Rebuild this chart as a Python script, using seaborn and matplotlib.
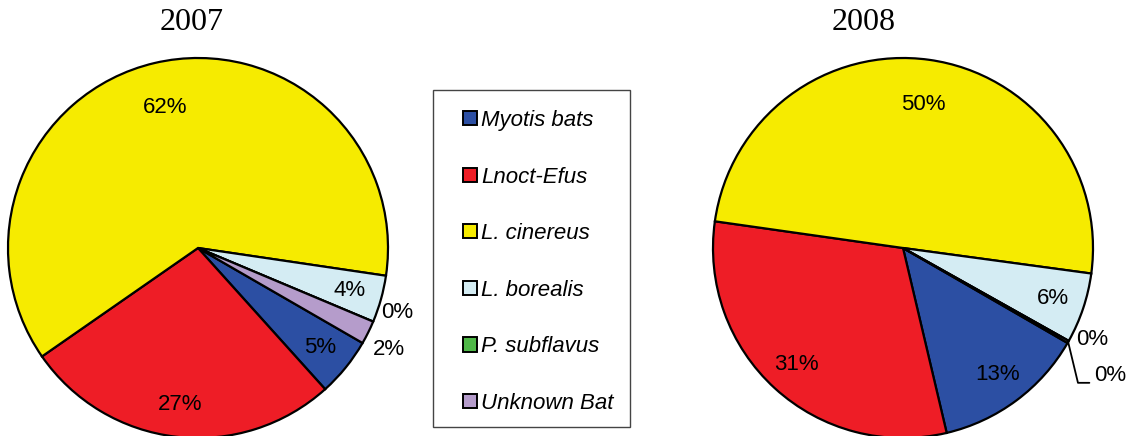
import numpy as np
import matplotlib
matplotlib.use('Agg')
import matplotlib.pyplot as plt
from matplotlib.patches import Patch, Rectangle
import seaborn as sns

# bat fatality composition by species group
species = ['Myotis bats', 'Lnoct-Efus', 'L. cinereus', 'L. borealis', 'P. subflavus', 'Unknown Bat']
pct_2007 = [5, 27, 62, 4, 0, 2]
pct_2008 = [13, 31, 50, 6, 0, 0.2]
years = ['2007', '2008']

colors = ['#2C4FA3', '#EE1D26', '#F6EB00', '#D4ECF3', '#4FB848', '#B59CCB']

sns.set_theme(style='white')
plt.rcParams['font.family'] = ['Liberation Sans', 'DejaVu Sans']
plt.rcParams['text.color'] = 'black'

W, H = 1132, 436
fig = plt.figure(figsize=(W / 100, H / 100), dpi=100)

# label placement: radius of the % text and angle nudge (deg) for the thin slices
big_r = {'L. cinereus': 0.76}
small_pos = {
    '2007': {'P. subflavus': (4.8, 1.10), 'Unknown Bat': (-1.5, 1.14)},
    '2008': {'P. subflavus': (3.3, 1.105), 'Unknown Bat': (-1.9, 1.28)},
}
leader = {'2008': 'Unknown Bat'}


def draw_pie(ax, vals, year):
    wedges, _ = ax.pie(vals, colors=colors, startangle=-30, counterclock=False,
                       wedgeprops=dict(edgecolor='black', linewidth=1.6))
    for w, name, v in zip(wedges, species, vals):
        mid = (w.theta1 + w.theta2) / 2
        if name in small_pos[year]:
            nudge, r = small_pos[year][name]
            mid = mid + nudge
        else:
            r = big_r.get(name, 0.83)
        a = np.deg2rad(mid)
        x, y = r * np.cos(a), r * np.sin(a)
        ax.text(x, y, f'{v:.0f}%', ha='center', va='center', fontsize=16,
                color='black', clip_on=False)
        if leader.get(year) == name:
            e = np.deg2rad((w.theta1 + w.theta2) / 2)
            ax.plot([np.cos(e), x - 0.17, x - 0.11], [np.sin(e), y - 0.04, y - 0.04],
                    color='black', lw=1.3, clip_on=False)
    ax.set_xlim(-1, 1)
    ax.set_ylim(-1, 1)
    ax.set_aspect('equal')
    ax.axis('off')


R = 190
for cx, vals, year, tx in [(198, pct_2007, '2007', 192), (903, pct_2008, '2008', 864)]:
    ax = fig.add_axes([(cx - R) / W, (H - 248 - R) / H, 2 * R / W, 2 * R / H])
    draw_pie(ax, vals, year)
    fig.text(tx / W, 1 - 22 / H, year, ha='center', va='center', fontsize=23,
             family='Liberation Serif', color='black')

# legend box
fig.patches.append(Rectangle((433 / W, (H - 427) / H), 197 / W, 337 / H,
                             transform=fig.transFigure, fill=False,
                             edgecolor='#444444', lw=1.0))
handles = [Patch(facecolor=c, edgecolor='black', lw=1.4) for c in colors]
leg = fig.legend(handles, species, loc='upper left', bbox_to_anchor=(463 / W, (H - 110) / H),
                 frameon=False, prop=dict(style='italic', size=16),
                 handlelength=0.62, handleheight=0.62, handletextpad=0.2,
                 labelspacing=1.6, borderpad=0, borderaxespad=0)
for t in leg.get_texts():
    t.set_color('black')

fig.savefig('out.png', dpi=100)
